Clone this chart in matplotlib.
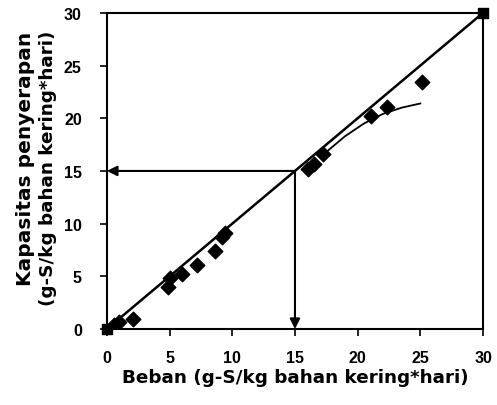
import matplotlib
matplotlib.use("Agg")
import matplotlib.pyplot as plt

plt.rcParams['font.family'] = ['Liberation Sans', 'DejaVu Sans']

# Data
beban = [0.6, 1.0, 2.1, 4.9, 5.0, 6.0, 7.2, 8.6, 9.2, 9.4, 16.0, 16.5, 17.2, 21.1, 22.3, 25.1]
kapasitas = [0.4, 0.7, 1.0, 4.0, 4.8, 5.2, 6.1, 7.4, 8.7, 9.1, 15.2, 15.7, 16.6, 20.2, 21.1, 23.4]
end_x = [0, 30]
end_y = [0, 30]
fit_x = [0, 30]
fit_y = [0, 30]
curve_x = [17.6, 19.0, 20.5, 22.0, 23.5, 25.0]
curve_y = [16.9, 18.3, 19.5, 20.4, 21.0, 21.4]
ref_x = 15
ref_y = 15
xticks = [0, 5, 10, 15, 20, 25, 30]
yticks = [0, 5, 10, 15, 20, 25, 30]
xlabel = 'Beban (g-S/kg bahan kering*hari)'
ylabel1 = 'Kapasitas penyerapan'
ylabel2 = '(g-S/kg bahan kering*hari)'

fig = plt.figure(figsize=(4.97, 4.06), dpi=100)
ax = fig.add_axes([0.215, 0.187, 0.757, 0.779])

ax.plot(fit_x, fit_y, color='black', lw=1.8, zorder=2)
ax.plot(curve_x, curve_y, color='black', lw=1.3, zorder=2)
ax.scatter(beban, kapasitas, marker='D', s=55, color='black', zorder=3)
ax.scatter(end_x, end_y, marker='s', s=60, color='black', zorder=3, clip_on=False)

arrow_kw = dict(arrowstyle='-|>', color='black', lw=1.5, mutation_scale=15,
                shrinkA=0, shrinkB=0)
ax.annotate('', xy=(0, ref_y), xytext=(ref_x, ref_y), arrowprops=arrow_kw)
ax.annotate('', xy=(ref_x, 0), xytext=(ref_x, ref_y), arrowprops=arrow_kw)

ax.set_xlim(0, 30)
ax.set_ylim(0, 30)
ax.set_xticks(xticks)
ax.set_yticks(yticks)
for lab in ax.get_xticklabels() + ax.get_yticklabels():
    lab.set_fontweight('bold')
    lab.set_fontsize(11.5)
ax.tick_params(direction='out', length=5, width=1.2)
ax.tick_params(axis='x', pad=10)
ax.tick_params(axis='y', pad=13)
for sp in ax.spines.values():
    sp.set_linewidth(1.5)

lab_font = dict(family='DejaVu Sans', fontweight='bold', fontsize=13.2)
fig.text(295 / 497, 1 - 383 / 406, xlabel, ha='center', va='baseline', **lab_font)
fig.text(26 / 497, 1 - 159 / 406, ylabel1, ha='center', va='center', rotation=90,
         family='DejaVu Sans', fontweight='bold', fontsize=14.5)
fig.text(48 / 497, 1 - 168 / 406, ylabel2, ha='center', va='center', rotation=90, **lab_font)

fig.savefig('out.png', dpi=100)
